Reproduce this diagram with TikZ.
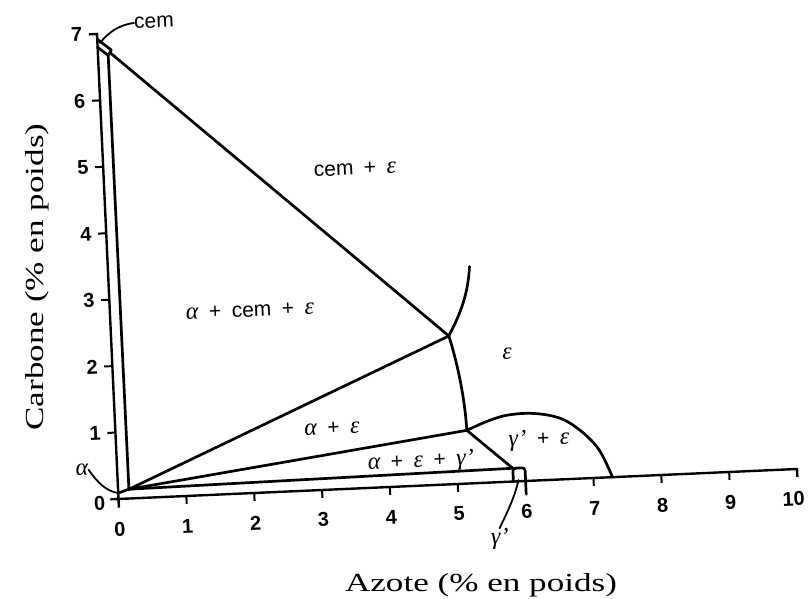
\documentclass[tikz,border=0pt]{standalone}
\usepackage{fontspec}
\setmainfont{Liberation Serif}
\setsansfont{Liberation Sans}
\usepackage{graphicx}
\newcommand{\phplus}{\hspace{0.5em}+\hspace{0.5em}}
\newcommand{\myalpha}{{\rmfamily\itshape\fontsize{24}{28}\selectfont α}}
\newcommand{\myeps}{{\rmfamily\itshape\fontsize{24}{28}\selectfont ε}}
\newcommand{\mygam}{{\rmfamily\itshape\fontsize{24}{28}\selectfont γ\kern0.5pt'}}
\begin{document}
\begin{tikzpicture}[x=1pt,y=1pt,
  bnd/.style={line width=2.7pt, line join=round, line cap=round},
  axisline/.style={line width=2.4pt, line join=miter},
  tickmark/.style={line width=2pt},
  phase/.style={font=\sffamily\fontsize{21}{25}\selectfont, rotate=2.5, inner sep=0pt},
  numlab/.style={font=\sffamily\bfseries\fontsize{20}{24}\selectfont, rotate=2.5, inner sep=0pt},
  axtitle/.style={font=\rmfamily\fontsize{26}{30}\selectfont, inner sep=0pt},
  lead/.style={line width=1.8pt, line cap=round}]
\useasboundingbox (0,0) rectangle (808,599);
\begin{scope}[shift={(118.5pt,100pt)}, x={(67.85pt,3pt)}, y={(-3.07pt,66.43pt)}]
  % axes
  \coordinate (O) at (0,0);
  \coordinate (Xend) at (10,0);
  \coordinate (Yend) at (0,7);
  \draw[axisline] (-0.12,7) -- (Yend) -- (0,-0.13);
  \draw[axisline] (-0.12,0) -- (Xend) -- (10,-0.12);
  \foreach \i in {1,2,3,4,5,7,8,9} \draw[tickmark] (\i,0) -- (\i,-0.12);
  \foreach \j in {1,...,6} \draw[tickmark] (0,\j) -- (-0.12,\j);
  \foreach \i in {0,...,9} \node[numlab] (xl\i) at (\i,-0.45) {\i};
  \node[numlab] (xl10) at (9.93,-0.45) {10};
  \foreach \j in {1,...,7} \node[numlab] (yl\j) at (-0.3,\j) {\j};
  \node[numlab] (yl0) at (-0.28,-0.05) {0};
  % key points
  \coordinate (F) at (0.16,0.14);
  \coordinate (S1) at (0,6.92);
  \coordinate (S2) at (0.2,6.75);
  \coordinate (S3) at (0.15,6.67);
  \coordinate (S4) at (0,6.80);
  \coordinate (Dst) at (0.18,6.71);
  \coordinate (T) at (4.97,2.23);
  \coordinate (J) at (5.17,0.80);
  \coordinate (K) at (5.82,0.20);
  \coordinate (Etop) at (5.32,3.26);
  \coordinate (G) at (7.28,0);
  \coordinate (A0) at (0,0.09);
  % boundaries
  \draw[bnd] (S1) -- (S2) -- (S3) -- (S4);
  \draw[bnd] (F) -- (S3);
  \draw[bnd] (Dst) -- (T);
  \draw[bnd] (A0) -- (F);
  \draw[bnd] (F) -- (T);
  \draw[bnd] (F) -- (J);
  \draw[bnd] (F) -- (K);
  \draw[bnd] (J) -- (K);
  \draw[bnd] (Etop) .. controls (5.28,2.8) and (5.12,2.5) .. (T)
                    .. controls (5.08,1.8) and (5.16,1.3) .. (J);
  \draw[bnd] plot[smooth, tension=0.6] coordinates {(J) (5.47,0.92) (5.77,1.00) (6.16,1.01) (6.55,0.92) (6.83,0.73) (7.07,0.47) (7.20,0.21) (G)};
  \draw[bnd, rounded corners=3pt] (5.82,0) -- (K) -- (6,0.2) -- (6,-0.2);
\end{scope}
% phase labels
\node[phase] (lcemeps) at (355,430) {cem\phplus\myeps};
\node[phase] (lacemeps) at (250,288) {\myalpha\phplus cem\phplus\myeps};
\node[phase] (leps) at (507,245) {\myeps};
\node[phase] (laeps) at (332,171) {\myalpha\phplus\myeps};
\node[phase] (laepsg) at (421,137) {\myalpha\phplus\myeps\phplus\mygam};
\node[phase] (lgeps) at (539,159) {\mygam\phplus\myeps};
% leader labels
\node[phase, anchor=west] (lcem) at (134,576) {cem};
\coordinate (cemp) at (100,556);
\draw[lead] (cemp) .. controls (108,566) and (118,574) .. (lcem.west);
\node[phase] (lalpha) at (82,129) {\myalpha};
\coordinate (aend) at (118,106);
\draw[lead] (lalpha.east) .. controls (98,116) and (106,108) .. (aend);
\node[phase] (lgam) at (500,60) {\mygam};
\coordinate (gst) at (518.5,119);
\draw[lead] (gst) .. controls (515,103) and (508,88) .. (lgam.north);
% axis titles
\node[axtitle, anchor=base] (xtitle) at (481,7) {\scalebox{1.35}[1]{Azote (\% en poids)}};
\node[axtitle, anchor=base, rotate=90] (ytitle) at (43,322) {\scalebox{1.35}[1]{Carbone (\% en poids)}};
\end{tikzpicture}
\end{document}
